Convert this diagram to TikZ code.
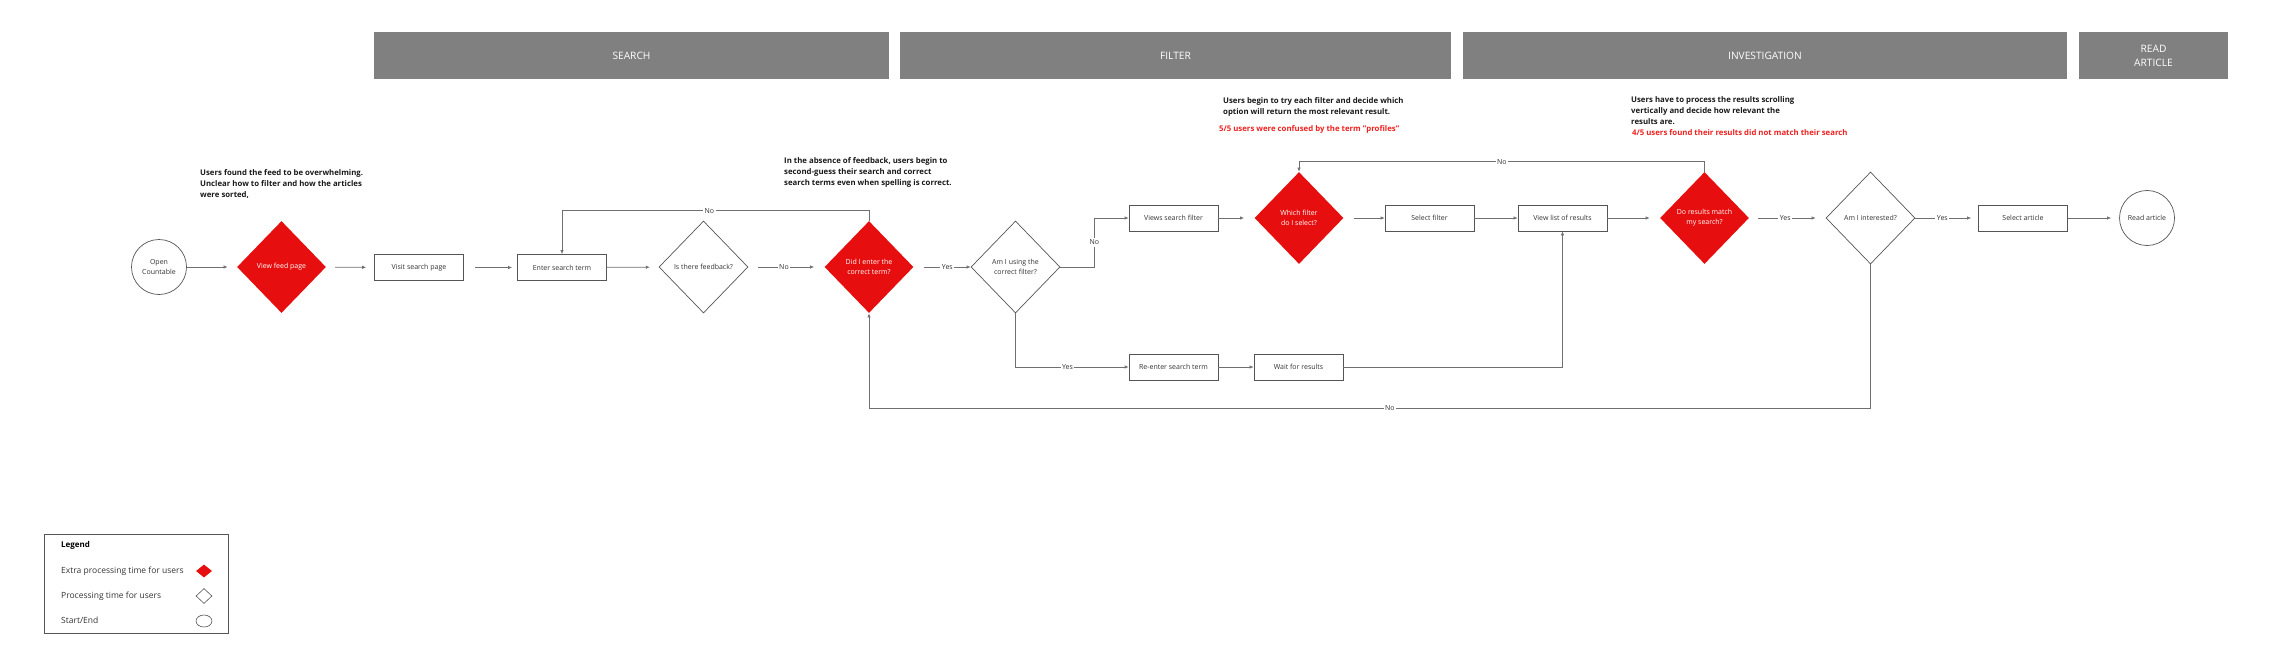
\documentclass[tikz,border=0pt]{standalone}
\usepackage{fontspec}
\setmainfont{Open Sans}
\usepackage{tikz}
\usetikzlibrary{positioning}
\usetikzlibrary{shapes.geometric}
\usetikzlibrary{arrows.meta}
\definecolor{hdrgray}{HTML}{808080}
\definecolor{flowred}{HTML}{E60E0E}
\definecolor{notered}{HTML}{F02020}
\definecolor{edgegray}{HTML}{555555}
\definecolor{linegray}{HTML}{707070}
\tikzset{%
  box/.style={
    rectangle,
    draw=edgegray,
    line width=0.7pt,
    minimum width=89pt,
    minimum height=26pt,
    inner sep=0pt,
    text=black!80,
    font=\fontsize{7}{9}\selectfont
  },
  decision/.style={
    diamond,
    draw=edgegray,
    line width=0.7pt,
    minimum width=89pt,
    minimum height=92pt,
    inner sep=0pt,
    align=center,
    text=black!80,
    font=\fontsize{7}{10}\selectfont
  },
  hot decision/.style={
    decision,
    draw=none,
    fill=flowred,
    text=white
  },
  terminal/.style={
    circle,
    draw=edgegray,
    line width=0.7pt,
    minimum size=55pt,
    inner sep=0pt,
    align=center,
    text=black!80,
    font=\fontsize{7}{10}\selectfont
  },
  header/.style={
    fill=hdrgray,
    minimum height=47pt,
    inner sep=0pt,
    align=center,
    text=white,
    font=\fontsize{10.2}{14}\selectfont
  },
  note/.style={
    anchor=north west,
    inner sep=0pt,
    align=left,
    text=black!90,
    font=\fontsize{7.8}{11.2}\bfseries\selectfont
  },
  flow/.style={
    draw=linegray,
    line width=0.7pt,
    -{Latex[length=4pt,width=3.5pt]}
  },
  lbl/.style={
    fill=white,
    inner sep=1.5pt,
    text=black!80,
    font=\fontsize{7}{9}\selectfont
  },
  legendtext/.style={
    anchor=west,
    inner sep=0pt,
    text=black!80,
    font=\fontsize{8.5}{10}\selectfont
  },
}

\begin{document}
\begin{tikzpicture}[x=1pt,y=-1pt]
  \useasboundingbox (0,0) rectangle (2285,661);
  \foreach \cx/\w/\t [count=\i] in {631.5/515/SEARCH, 1175.5/551/FILTER, 1765/604/INVESTIGATION, 2153.5/149/{READ\\ARTICLE}} {
      \node[header, minimum width=\w pt] (H\i) at (\cx,55.5) {\t};
  }

  \node[terminal] (open) at (159,267) {Open\\Countable};
  \node[hot decision] (feed) at (281.5,267) {View feed page};
  \node[box] (visit) at (419,267.5) {Visit search page};
  \node[box] (enter) at (562,267.5) {Enter search term};
  \node[decision] (fb) at (703.5,267) {Is there feedback?};
  \node[hot decision] (did) at (869,267) {Did I enter the\\correct term?};
  \node[decision] (using) at (1015.5,267) {Am I using the\\correct filter?};
  \node[box] (views) at (1173.5,218) {Views search filter};
  \node[hot decision] (which) at (1299,218) {Which filter\\do I select?};
  \node[box] (select) at (1429.5,218) {Select filter};
  \node[box] (list) at (1562.5,218) {View list of results};
  \node[hot decision] (match) at (1704.5,218) {Do results match\\my search?};
  \node[decision] (interest) at (1870.5,218) {Am I interested?};
  \node[box] (article) at (2023,218) {Select article};
  \node[terminal] (read) at (2147,218) {Read article};
  \node[box] (reenter) at (1173.5,367) {Re-enter search term};
  \node[box] (wait) at (1298.5,367) {Wait for results};
  \coordinate (back) at (1870.5,408);

  \node[note] (n1) at (200,169) {Users found the feed to be overwhelming.\\Unclear how to filter and how the articles\\were sorted,};
  \node[note] (n2) at (784,157) {In the absence of feedback, users begin to\\second-guess their search and correct\\search terms even when spelling is correct.};
  \node[note] (n3) at (1223,97) {Users begin to try each filter and decide which\\option will return the most relevant result.};
  \node[note, text=notered] (r3) at (1219,125) {5/5 users were confused by the term "profiles"};
  \node[note] (n4) at (1631,96) {Users have to process the results scrolling\\vertically and decide how relevant the\\results are.};
  \node[note, text=notered] (r4) at (1632,129) {4/5 users found their results did not match their search};

  \draw[flow, shorten >=9pt] (open) -- (feed);
  \draw[flow, shorten <=9pt, shorten >=8pt] (feed) -- (visit);
  \draw[flow, shorten <=11pt, shorten >=5pt] (visit) -- (enter);
  \draw[flow, shorten >=9pt] (enter) -- (fb);
  \draw[flow, shorten <=10pt, shorten >=10pt] (fb) -- node[lbl, pos=0.47] {No} (did);
  \draw[flow, shorten <=10pt] (did) -- node[lbl, pos=0.59] {Yes} (using);
  \draw[flow] (did.north) -- ++(0,-10) -| node[lbl, pos=0.26] {No} (enter.north);
  \draw[flow] (using.east) -- ++(34,0) |- node[lbl, pos=0.25] {No} (views.west);
  \draw[flow] (using.south) |- node[lbl, pos=0.73] {Yes} (reenter.west);
  \draw[flow, shorten >=10pt] (views) -- (which);
  \draw[flow, shorten <=10pt] (which) -- (select);
  \draw[flow] (select) -- (list);
  \draw[flow, shorten >=10pt] (list) -- (match);
  \draw[flow] (match.north) -- ++(0,-10) -| node[lbl, pos=0.25] {No} (which.north);
  \draw[flow, shorten <=9pt, shorten >=10pt] (match) -- node[lbl, pos=0.47] {Yes} (interest);
  \draw[flow, shorten >=7pt] (interest) -- node[lbl, pos=0.43] {Yes} (article);
  \draw[flow, shorten >=8pt] (article) -- (read);
  \draw[flow] (reenter) -- (wait);
  \draw[flow] (wait.east) -| (list.south);
  \draw[flow] (interest.south) -- (back) -| node[lbl, pos=0.24] {No} (did.south);

  \node[draw=edgegray, line width=0.7pt, minimum width=184pt, minimum height=99pt, inner sep=0pt] (legend) at (136,583.5) {};
  \node[legendtext, text=black, font=\fontsize{8}{10}\bfseries\selectfont] (lgtitle) at (61,545) {Legend};
  \node[legendtext] (lg1) at (61,571) {Extra processing time for users};
  \node[legendtext] (lg2) at (61,596) {Processing time for users};
  \node[legendtext] (lg3) at (61,620) {Start/End};
  \node[diamond, fill=flowred, minimum width=16pt, minimum height=13pt, inner sep=0pt] (lgd1) at (204,571) {};
  \node[diamond, draw=edgegray, line width=0.6pt, minimum width=16pt, minimum height=15pt, inner sep=0pt] (lgd2) at (204,596) {};
  \node[ellipse, draw=edgegray, line width=0.6pt, minimum width=16pt, minimum height=12pt, inner sep=0pt] (lgd3) at (204,621) {};
\end{tikzpicture}
\end{document}
